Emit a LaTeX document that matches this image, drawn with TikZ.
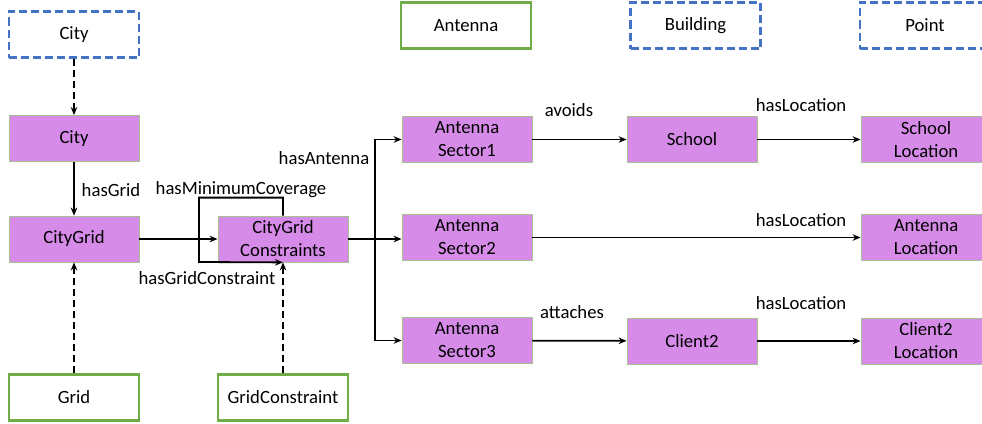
\documentclass[tikz,border=0pt]{standalone}
\usepackage{fontspec}
\setmainfont{Carlito}
\usetikzlibrary{arrows.meta}

\definecolor{instfill}{HTML}{D68BE8}
\definecolor{instedge}{HTML}{A3C48E}
\definecolor{clsgreen}{HTML}{70AD47}
\definecolor{extblue}{HTML}{4472C4}

\begin{document}
\begin{tikzpicture}[x=1pt,y=-1pt,
  box/.style={minimum width=130pt, minimum height=46pt, align=center,
    inner sep=0pt, font=\fontsize{18.7}{23}\selectfont},
  inst/.style={box, fill=instfill, draw=instedge, line width=0.8pt},
  cls/.style={box, fill=white, draw=clsgreen, line width=2.4pt},
  ext/.style={box, fill=white, draw=extblue, line width=2.4pt,
    dash pattern=on 8pt off 4pt},
  rel/.style={line width=1.8pt, -{Stealth[length=8pt,width=6.5pt]}},
  typ/.style={rel, dash pattern=on 7pt off 4pt},
  lbl/.style={inner sep=0pt, font=\fontsize{18.7}{23}\selectfont}
]
\clip (0,0) rectangle (982,423);
\fill[white] (0,0) rectangle (982,423);

% class and external type boxes
\node[ext] (cityT) at (74,34.5) {City};
\node[cls] (antT) at (466,25.5) {Antenna};
\node[ext] (bldT) at (695.5,25.5) {Building};
\node[ext] (ptT) at (925,25.5) {Point};
\node[cls] (grid) at (74,397.5) {Grid};
\node[cls] (gc) at (283,397.5) {GridConstraint};

% instances
\node[inst] (city) at (74,138.5) {City};
\node[inst] (citygrid) at (74,239) {CityGrid};
\node[inst] (cgc) at (283,239) {CityGrid\\Constraints};
\node[inst] (as1) at (467,139.5) {Antenna\\Sector1};
\node[inst] (as2) at (467,237.5) {Antenna\\Sector2};
\node[inst] (as3) at (467,340.5) {Antenna\\Sector3};
\node[inst] (school) at (692,139.5) {School};
\node[inst] (client) at (692,341) {Client2};
\node[inst] (sloc) at (926,139.5) {School\\Location};
\node[inst] (aloc) at (926,237.5) {Antenna\\Location};
\node[inst] (cloc) at (926,341) {Client2\\Location};

% type links
\draw[typ] (cityT) -- (city);
\draw[typ] (grid) -- (citygrid);
\draw[typ] (gc) -- (cgc.south);

% relations
\draw[rel] (city) -- (citygrid);
\draw[rel] (citygrid) -- (cgc);
\draw[rel] (cgc.north) -- ++(0,-18) -| (199,262) -- (cgc.south);
\coordinate (bus) at (375,239);
\draw[rel] (cgc.east |- bus) -- (as2.west |- bus);
\draw[rel] (bus) |- (as1);
\draw[rel] (bus) |- (as3);
\draw[rel] (as1) -- (school);
\draw[rel] (as3) -- (client);
\draw[rel] (school) -- (sloc);
\draw[rel] (as2) -- (aloc);
\draw[rel] (client) -- (cloc);

% relation labels
\node[lbl] (lHasGrid) at (111,190) {hasGrid};
\node[lbl] (lMinCov) at (241,190) {hasMinimumCoverage};
\node[lbl] (lGridCon) at (207,278) {hasGridConstraint};
\node[lbl] (lAntenna) at (324,158) {hasAntenna};
\node[lbl] (lAvoids) at (569,110) {avoids};
\node[lbl] (lAttaches) at (572,312) {attaches};
\node[lbl] (lLoc1) at (801,105) {hasLocation};
\node[lbl] (lLoc2) at (801,220) {hasLocation};
\node[lbl] (lLoc3) at (801,303) {hasLocation};
\end{tikzpicture}
\end{document}
